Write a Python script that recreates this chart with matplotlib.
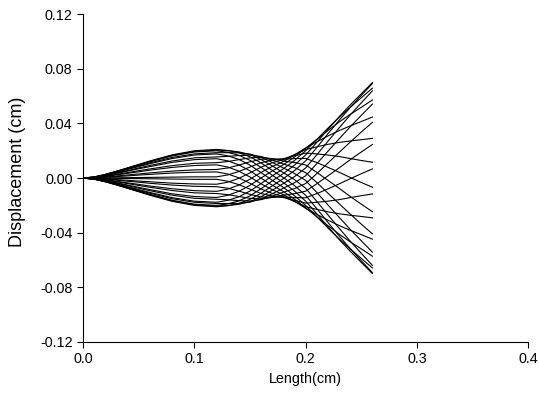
import matplotlib.pyplot as plt

plt.rcParams['font.family'] = ['Liberation Sans', 'DejaVu Sans']

# stations along the filament (cm)
length_cm = [0.00, 0.01, 0.02, 0.03, 0.04, 0.05, 0.06, 0.08, 0.10, 0.12,
             0.13, 0.14, 0.15, 0.16, 0.17, 0.18, 0.19, 0.20,
             0.21, 0.22, 0.23, 0.24, 0.25, 0.26]

# displacement snapshots over one cycle (micrometres), one row per frame
disp_um = [
    [0, 8, 26, 49, 73, 98, 122, 166, 195, 205, 201, 192, 172, 136, 89, 40, -11, -74, -170, -269, -366, -461, -551, -639],
    [0, 7, 24, 44, 67, 89, 111, 151, 177, 186, 186, 185, 176, 152, 115, 74, 34, -17, -105, -196, -286, -375, -459, -542],
    [0, 6, 20, 37, 55, 74, 92, 125, 148, 155, 159, 165, 168, 158, 133, 103, 77, 40, -32, -110, -187, -263, -337, -408],
    [0, 4, 15, 27, 40, 54, 67, 91, 108, 113, 121, 135, 148, 153, 142, 125, 114, 96, 42, -16, -74, -134, -191, -246],
    [0, 2, 8, 15, 23, 30, 38, 51, 60, 63, 74, 95, 119, 138, 141, 138, 143, 144, 114, 79, 43, 5, -32, -67],
    [0, 0, 1, 2, 3, 4, 5, 7, 9, 9, 23, 48, 81, 113, 131, 142, 163, 183, 177, 169, 158, 143, 129, 116],
    [0, -2, -6, -11, -16, -22, -27, -37, -43, -45, -30, -2, 38, 80, 112, 136, 172, 209, 229, 247, 261, 272, 281, 291],
    [0, -4, -12, -23, -35, -46, -58, -78, -92, -97, -81, -51, -8, 42, 85, 121, 169, 221, 265, 308, 347, 382, 414, 447],
    [0, -5, -18, -34, -51, -68, -84, -115, -135, -142, -126, -97, -53, 1, 52, 98, 154, 218, 283, 348, 410, 466, 518, 572],
    [0, -7, -23, -42, -63, -84, -105, -143, -169, -177, -163, -137, -95, -40, 16, 68, 129, 200, 282, 365, 444, 518, 588, 658],
    [0, -8, -26, -48, -72, -95, -119, -162, -191, -200, -189, -167, -130, -78, -21, 33, 95, 169, 261, 356, 448, 535, 617, 699],
    [0, -8, -27, -50, -75, -100, -125, -170, -200, -210, -202, -186, -156, -111, -57, -4, 55, 126, 223, 324, 422, 516, 605, 692],
    [0, -8, -26, -49, -73, -98, -122, -166, -195, -205, -201, -192, -172, -136, -89, -40, 11, 74, 170, 269, 366, 461, 551, 639],
    [0, -7, -24, -44, -67, -89, -111, -151, -177, -186, -186, -185, -176, -152, -115, -74, -34, 17, 105, 196, 286, 375, 459, 542],
    [0, -6, -20, -37, -55, -74, -92, -125, -148, -155, -159, -165, -168, -158, -133, -103, -77, -40, 32, 110, 187, 263, 337, 408],
    [0, -4, -15, -27, -40, -54, -67, -91, -108, -113, -121, -135, -148, -153, -142, -125, -114, -96, -42, 16, 74, 134, 191, 246],
    [0, -2, -8, -15, -23, -30, -38, -51, -60, -63, -74, -95, -119, -138, -141, -138, -143, -144, -114, -79, -43, -5, 32, 67],
    [0, 0, -1, -2, -3, -4, -5, -7, -9, -9, -23, -48, -81, -113, -131, -142, -163, -183, -177, -169, -158, -143, -129, -116],
    [0, 2, 6, 11, 16, 22, 27, 37, 43, 45, 30, 2, -38, -80, -112, -136, -172, -209, -229, -247, -261, -272, -281, -291],
    [0, 4, 12, 23, 35, 46, 58, 78, 92, 97, 81, 51, 8, -42, -85, -121, -169, -221, -265, -308, -347, -382, -414, -447],
    [0, 5, 18, 34, 51, 68, 84, 115, 135, 142, 126, 97, 53, -1, -52, -98, -154, -218, -283, -348, -410, -466, -518, -572],
    [0, 7, 23, 42, 63, 84, 105, 143, 169, 177, 163, 137, 95, 40, -16, -68, -129, -200, -282, -365, -444, -518, -588, -658],
    [0, 8, 26, 48, 72, 95, 119, 162, 191, 200, 189, 167, 130, 78, 21, -33, -95, -169, -261, -356, -448, -535, -617, -699],
    [0, 8, 27, 50, 75, 100, 125, 170, 200, 210, 202, 186, 156, 111, 57, 4, -55, -126, -223, -324, -422, -516, -605, -692],
]

x_ticks = [0.0, 0.1, 0.2, 0.3, 0.4]
y_ticks = [-0.12, -0.08, -0.04, 0.00, 0.04, 0.08, 0.12]

fig = plt.figure(figsize=(5.39, 3.94), dpi=100)
ax = fig.add_axes([0.154, 0.132, 0.826, 0.832])

for row in disp_um:
    ax.plot(length_cm, [v / 1e4 for v in row], color='black', lw=0.8)

ax.set_xlim(0, 0.4)
ax.set_ylim(-0.12, 0.12)
ax.set_xticks(x_ticks)
ax.set_xticklabels([f'{t:.1f}' for t in x_ticks])
ax.set_yticks(y_ticks)
ax.set_yticklabels([f'{t:.2f}' for t in y_ticks])

for side in ['top', 'right']:
    ax.spines[side].set_visible(False)
for side in ['left', 'bottom']:
    ax.spines[side].set_linewidth(0.8)

ax.tick_params(direction='out', length=4.5, width=0.8, labelsize=10.4, pad=3)
ax.set_xlabel('Length(cm)', fontsize=10.4)
ax.set_ylabel('Displacement (cm)', fontsize=13)
ax.yaxis.set_label_coords(-0.128, 0.518)

fig.savefig('out.png', dpi=100)
